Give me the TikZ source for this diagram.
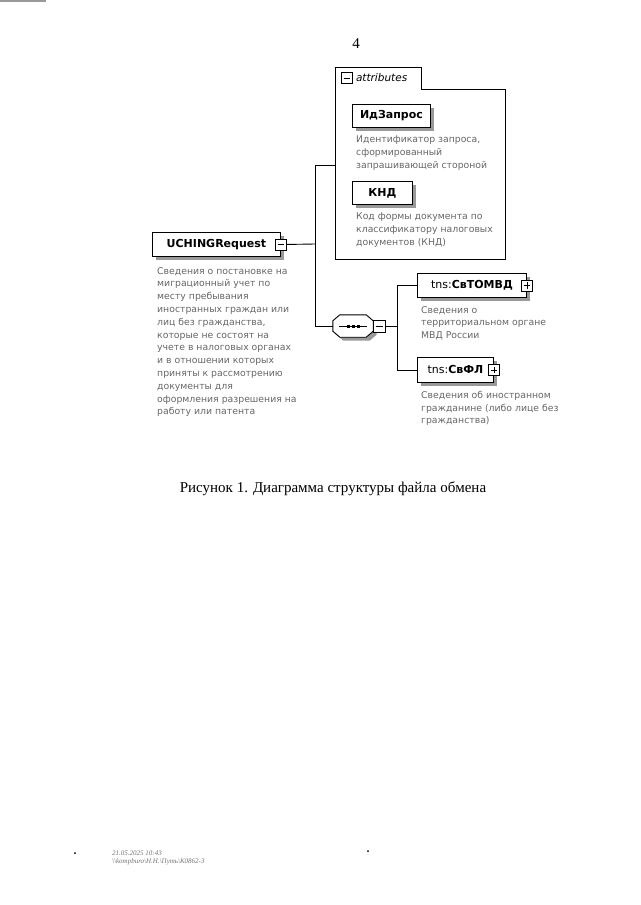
\documentclass[tikz,border=0pt]{standalone}
\usepackage{fontspec}
\setmainfont{Liberation Serif}
\newfontfamily\xsfont{DejaVu Sans}
\usepackage{xcolor}
\usepackage{tikz}
\usetikzlibrary{positioning}

\begin{document}
\begin{tikzpicture}[
      x=1pt, y=-1pt,
      shade3/.style={preaction={fill=black!40, transform canvas={xshift=3.5pt, yshift=-3.5pt}}},
      elem/.style={draw, fill=white, line width=0.9, inner sep=0, anchor=north west,
        font=\xsfont\bfseries\fontsize{11}{13}\selectfont, shade3},
      desc/.style={inner sep=0, align=left, text=black!60,
        font=\xsfont\fontsize{9.3}{12.8}\selectfont},
      minusbox/.style={draw, fill=white, line width=0.8, minimum size=11, inner sep=0,
        path picture={\draw[line width=0.8] ([xshift=2.3]path picture bounding box.west) -- ([xshift=-2.3]path picture bounding box.east);}},
      plusbox/.style={draw, fill=white, line width=0.8, minimum size=11, inner sep=0,
        path picture={\draw[line width=0.8] ([xshift=2.3]path picture bounding box.west) -- ([xshift=-2.3]path picture bounding box.east);
          \draw[line width=0.8] ([yshift=-2.3]path picture bounding box.north) -- ([yshift=2.3]path picture bounding box.south);}},
      wire/.style={line width=0.9}
    ]
    \useasboundingbox (0,0) rectangle (640,905);

    % Margine di scansione
    \draw[black!40, line width=1.5] (0,0.8) -- (46,0.8);

    % Numero di pagina
    \node[font=\fontsize{15}{18}\selectfont] (pagenum) at (356,44) {4};

    % Elemento radice
    \node[elem, minimum width=128, minimum height=24] (uch) at (152,232) {UCHINGRequest\hspace{6pt}};
    \node[minusbox] (uchctl) at (uch.east) {};
    \node[desc, below right=10pt and 5pt of uch.south west] (uchdesc) {Сведения о постановке на\\миграционный учет по\\месту пребывания\\иностранных граждан или\\лиц без гражданства,\\которые не состоят на\\учете в налоговых органах\\и в отношении которых\\приняты к рассмотрению\\документы для\\оформления разрешения на\\работу или патента};

    % Attributi
    \node[minimum width=170, minimum height=170, anchor=north west, inner sep=0] (attrs) at (335,89) {};
    \draw[wire] (attrs.south west) |- ([xshift=86, yshift=22]attrs.north west)
      -- ([xshift=86]attrs.north west) -| (attrs.south east) -- cycle;
    \node[minusbox, anchor=west] (attrctl) at ([xshift=6, yshift=11]attrs.north west) {};
    \node[right=3pt of attrctl, inner sep=0, font=\xsfont\itshape\fontsize{10.5}{12}\selectfont] (attrlbl) {attributes};

    \node[elem, minimum width=78, minimum height=23] (idz) at (352,104) {ИдЗапрос};
    \node[desc, below right=8pt and 4pt of idz.south west] (idzdesc) {Идентификатор запроса,\\сформированный\\запрашивающей стороной};
    \node[elem, minimum width=60, minimum height=23] (knd) at (352,181) {КНД};
    \node[desc, below right=8pt and 4pt of knd.south west] (knddesc) {Код формы документа по\\классификатору налоговых\\документов (КНД)};

    % Sequenza
    \node[minimum width=40, minimum height=22, inner sep=0] (seq) at (353,326) {};
    \filldraw[fill=white, line width=0.9, shade3]
      ([xshift=7]seq.north west) -- ([xshift=-7]seq.north east) -- ([yshift=-6]seq.north east)
      -- ([yshift=6]seq.south east) -- ([xshift=-7]seq.south east) -- ([xshift=7]seq.south west)
      -- ([yshift=6]seq.south west) -- ([yshift=-6]seq.north west) -- cycle;
    \draw[line width=1] ([xshift=-14]seq.center) -- ([xshift=14]seq.center);
    \foreach \d in {-5,0,5}
      \fill ([xshift=\d]seq.center) ++(-1.5,-1.5) rectangle ++(3,3);
    \node[minusbox, right=0pt of seq, minimum size=12] (seqctl) {};

    % Figli
    \node[elem, minimum width=109, minimum height=24] (tom) at (417,273) {\textmd{tns:}СвТОМВД\hspace{8pt}};
    \node[plusbox] (tomctl) at (tom.east) {};
    \node[desc, below right=8pt and 4pt of tom.south west] (tomdesc) {Сведения о\\территориальном органе\\МВД России};

    \node[elem, minimum width=76, minimum height=25] (svfl) at (417,357) {\textmd{tns:}СвФЛ\hspace{8pt}};
    \node[plusbox] (svflctl) at (svfl.east) {};
    \node[desc, below right=8pt and 4pt of svfl.south west] (svfldesc) {Сведения об иностранном\\гражданине (либо лице без\\гражданства)};

    % Collegamenti
    \coordinate (fork1) at (315,244);
    \coordinate (fork2) at (397,326);
    \draw[wire] (uchctl.east) -- (fork1);
    \draw[wire] (fork1) |- ([yshift=9]attrs.west);
    \draw[wire] (fork1) |- (seq.west);
    \draw[wire] (seqctl.east) -- (fork2);
    \draw[wire] (fork2) |- (tom.west);
    \draw[wire] (fork2) |- (svfl.west);

    % Didascalia
    \node[font=\fontsize{15}{18}\selectfont] (caption) at (333,489) {Рисунок 1. Диаграмма структуры файла обмена};

    % Piè di pagina
    \node[anchor=west, align=left, inner sep=0, text=black!55, font=\itshape\fontsize{7}{8}\selectfont] (stamp) at (112,858)
      {21.05.2025 10:43\\\textbackslash\textbackslash kompburo\textbackslash{}Н.Н.\textbackslash{}Путь\textbackslash{}К0862-3};
    \fill (75,853) circle (1);
    \fill (368,851) circle (1);
  \end{tikzpicture}
\end{document}
